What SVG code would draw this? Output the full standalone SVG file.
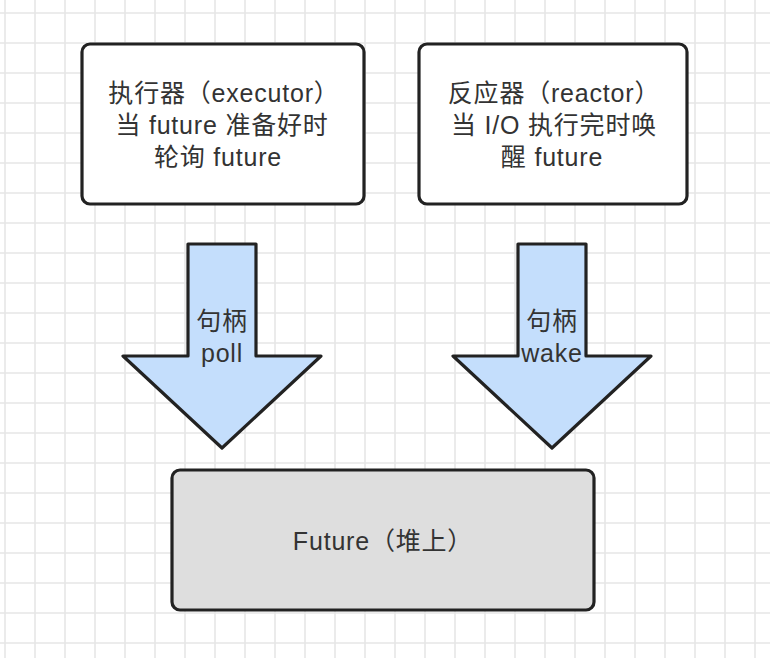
<svg xmlns="http://www.w3.org/2000/svg" width="770" height="658" viewBox="0 0 770 658">
  <defs>
    <pattern id="grid" x="4" y="12" width="30" height="30" patternUnits="userSpaceOnUse">
      <path d="M1 0V30M0 1H30" stroke="#e6e6e6" stroke-width="1.6" fill="none"/>
    </pattern>
    <style>
      .box { stroke: #222; stroke-width: 3.2; }
      .arrow { fill: #c4defc; stroke: #222; stroke-width: 3.2; stroke-linejoin: round; }
      .t { font-family: "Liberation Sans", "Noto Sans CJK SC", sans-serif; font-size: 25px; letter-spacing: 0.8px; fill: #333; text-anchor: middle; }
    </style>
  </defs>
  <rect width="770" height="658" fill="#ffffff"/>
  <rect width="770" height="658" fill="url(#grid)"/>

  <g id="executor">
    <rect class="box" x="82" y="44" width="282" height="160" rx="8" fill="#ffffff"/>
    <text class="t" x="224" y="102">执行器（executor）</text>
    <text class="t" x="222" y="134">当 future 准备好时</text>
    <text class="t" x="218" y="166">轮询 future</text>
  </g>

  <g id="reactor">
    <rect class="box" x="419" y="44" width="268" height="160" rx="8" fill="#ffffff"/>
    <text class="t" x="554" y="102">反应器（reactor）</text>
    <text class="t" x="554" y="134">当 I/O 执行完时唤</text>
    <text class="t" x="552" y="166">醒 future</text>
  </g>

  <g id="connectors">
    <g id="poll-arrow">
      <polygon class="arrow" points="188,244 256,244 256,356 321,356 222,448 123,356 188,356"/>
      <text class="t" x="222" y="330">句柄</text>
      <text class="t" x="222" y="362">poll</text>
    </g>
    <g id="wake-arrow">
      <polygon class="arrow" points="518,244 586,244 586,356 651,356 552,448 453,356 518,356"/>
      <text class="t" x="552" y="330">句柄</text>
      <text class="t" x="552" y="362">wake</text>
    </g>
  </g>

  <g id="future">
    <rect class="box" x="172" y="470" width="422" height="140" rx="8" fill="#dedede"/>
    <text class="t" x="383" y="550">Future（堆上）</text>
  </g>
</svg>
